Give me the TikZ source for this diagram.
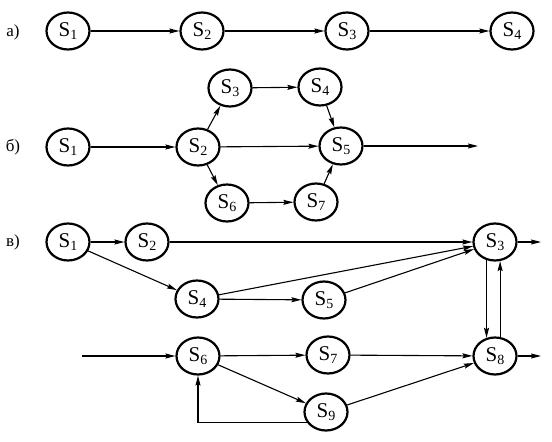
\documentclass[tikz,border=0pt]{standalone}
\usepackage{fontspec}
\setmainfont{Liberation Serif}
\usetikzlibrary{shapes.geometric,arrows.meta}
\newcommand\Sn[1]{S\raisebox{-0.35ex}{\fontsize{14}{14}\selectfont #1}}
\begin{document}
\begin{tikzpicture}[x=1pt,y=-1pt,
  st/.style={ellipse,draw,line width=2.2pt,minimum width=43pt,minimum height=37pt,inner sep=0pt,font=\fontsize{21}{21}\selectfont},
  arr/.style={line width=1.1pt,-{Stealth[length=10pt,width=5pt,inset=1.5pt]}},
  lbl/.style={font=\fontsize{17}{17}\selectfont}]
\useasboundingbox (0,0) rectangle (552,442);
% a)
\node[lbl] (la) at (13,32) {а)};
\node[st] (a1) at (68,31) {\Sn1};
\node[st] (a2) at (202,31) {\Sn2};
\node[st] (a3) at (347,31) {\Sn3};
\node[st] (a4) at (512,31) {\Sn4};
\draw[arr] (a1) -- (a2);
\draw[arr] (a2) -- (a3);
\draw[arr] (a3) -- (a4);
% b)
\node[lbl] (lb) at (13,147) {б)};
\node[st] (b1) at (68,147) {\Sn1};
\node[st] (b2) at (198,147) {\Sn2};
\node[st] (b3) at (230,88) {\Sn3};
\node[st] (b4) at (320,87) {\Sn4};
\node[st] (b5) at (341,146) {\Sn5};
\node[st] (b6) at (227,203) {\Sn6};
\node[st] (b7) at (316,202) {\Sn7};
\coordinate (bout) at (478,146);
\draw[arr] (b1) -- (b2);
\draw[arr] (b2) -- (b3);
\draw[arr] (b2) -- (b5);
\draw[arr] (b2) -- (b6);
\draw[arr] (b3) -- (b4);
\draw[arr] (b4) -- (b5);
\draw[arr] (b6) -- (b7);
\draw[arr] (b7) -- (b5);
\draw[arr] (b5) -- (bout);
% c)
\node[lbl] (lc) at (13,242) {в)};
\node[st] (c1) at (68,242) {\Sn1};
\node[st] (c2) at (147,242) {\Sn2};
\node[st] (c3) at (495,242) {\Sn3};
\node[st] (c4) at (197,299) {\Sn4};
\node[st] (c5) at (324,300) {\Sn5};
\node[st] (c6) at (198,356) {\Sn6};
\node[st] (c7) at (328,355) {\Sn7};
\node[st] (c8) at (495,356) {\Sn8};
\node[st] (c9) at (326,412) {\Sn9};
\coordinate (cin) at (82,356);
\coordinate (cout3) at (541,242);
\coordinate (cout8) at (541,356);
\draw[arr] (c1) -- (c2);
\draw[arr] (c1) -- (c4);
\draw[arr] (c2) -- (c3);
\draw[arr] (c4) -- (c3);
\draw[arr] (c4) -- (c5);
\draw[arr] (c5) -- (c3);
\draw[arr] (cin) -- (c6);
\draw[arr] (c6) -- (c7);
\draw[arr] (c6) -- (c9);
\draw[arr] (c7) -- (c8);
\draw[arr] (c9) -- (c8);
\draw[arr] (c9.210) -| (c6);
\draw[arr] (c3.245) -- (c8.115);
\draw[arr] (c8.75) -- (c3.285);
\draw[arr] (c3) -- (cout3);
\draw[arr] (c8) -- (cout8);
\end{tikzpicture}
\end{document}
